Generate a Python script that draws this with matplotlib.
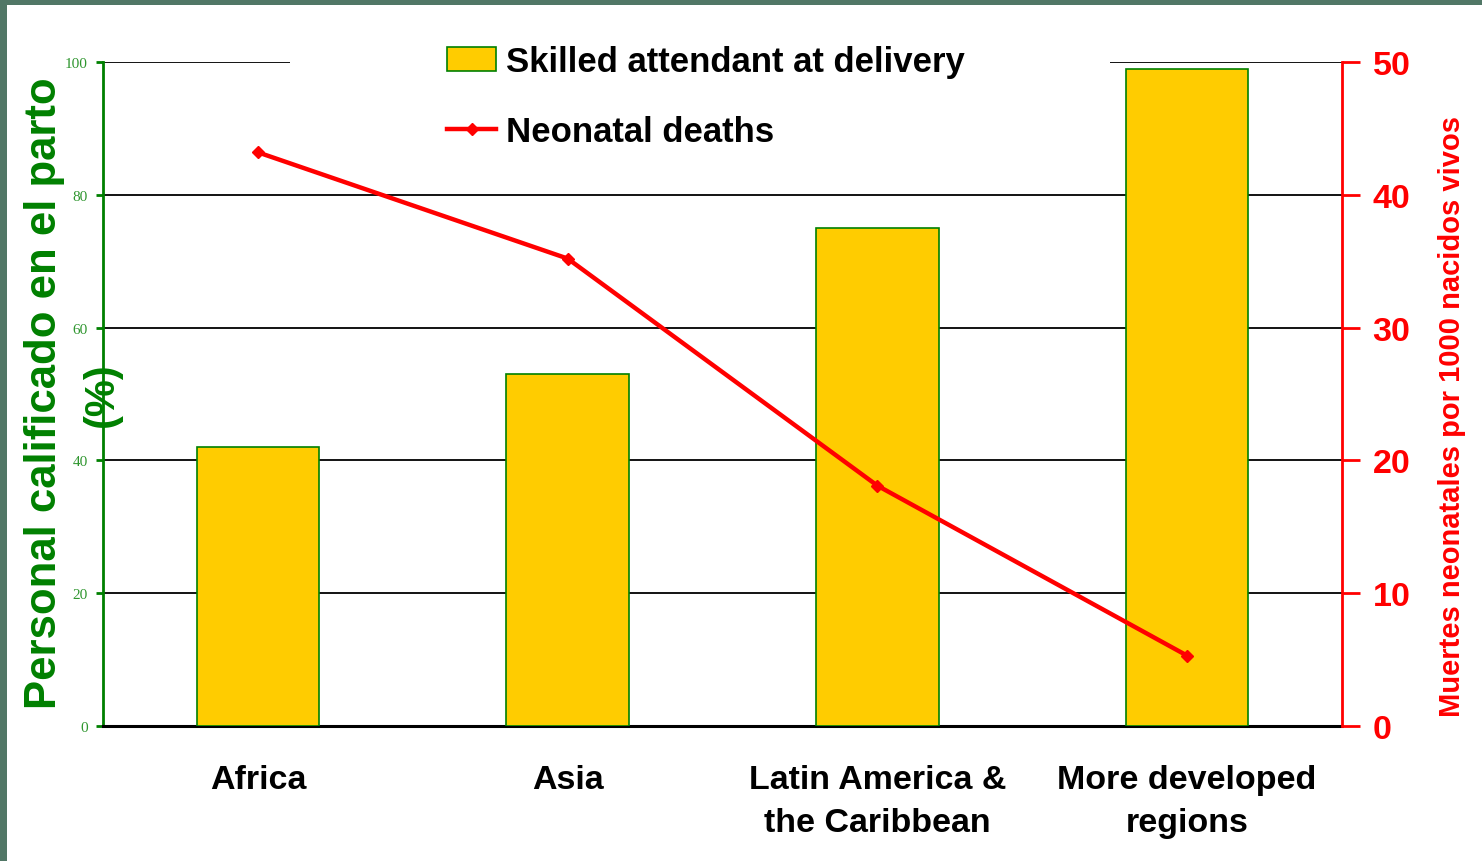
import matplotlib
matplotlib.use("Agg")
import matplotlib.pyplot as plt
from matplotlib.patches import Rectangle

regions = ["Africa", "Asia", "Latin America &\nthe Caribbean", "More developed\nregions"]
skilled_attendant = [42, 53, 75, 99]
neonatal_deaths = [43.2, 35.2, 18.1, 5.3]
left_ticks = [0, 20, 40, 60, 80, 100]
right_ticks = [0, 10, 20, 30, 40, 50]

plt.rcParams["font.family"] = ["Liberation Sans", "DejaVu Sans"]

GREEN = "#008000"
RED = "#ff0000"
GOLD = "#ffcc00"


def main() -> None:
    fig = plt.figure(figsize=(14.82, 8.62), dpi=100)
    ax = fig.add_axes([0.0695, 0.1566, 0.836, 0.7703])
    ax2 = ax.twinx()

    x = list(range(len(regions)))
    bars = ax.bar(x, skilled_attendant, width=0.395, color=GOLD, edgecolor=GREEN,
                  linewidth=1.2, zorder=3, label="Skilled attendant at delivery")
    line, = ax2.plot(x, neonatal_deaths, color=RED, linewidth=3.2, marker="D",
                     markersize=6, zorder=4, label="Neonatal deaths")

    ax.set_xlim(-0.5, len(regions) - 0.5)
    ax.set_ylim(0, 100)
    ax2.set_ylim(0, 50)
    ax.set_yticks(left_ticks)
    ax2.set_yticks(right_ticks)
    ax.set_xticks(x)
    ax.set_xticklabels(regions, fontsize=24.5, fontweight="bold", linespacing=1.5)
    ax.tick_params(axis="x", length=0, pad=27)

    ax.grid(axis="y", color="black", linewidth=1.3, zorder=0)
    ax.set_axisbelow(True)

    for t in ax.get_yticklabels():
        t.set_family(["Liberation Serif"])
        t.set_fontsize(11)
        t.set_color("#2f962f")
    ax.tick_params(axis="y", length=5, width=2, color=GREEN, pad=6)
    ax2.tick_params(axis="y", length=13, width=2, color=RED, labelcolor=RED,
                    labelsize=24.5, pad=9)
    for t in ax2.get_yticklabels():
        t.set_fontweight("bold")

    for a in (ax, ax2):
        a.spines["top"].set_visible(False)
    ax.spines["left"].set_color(GREEN)
    ax.spines["left"].set_linewidth(2)
    ax.spines["right"].set_visible(False)
    ax2.spines["left"].set_visible(False)
    ax2.spines["right"].set_color(RED)
    ax2.spines["right"].set_linewidth(2)
    ax.spines["bottom"].set_linewidth(2.2)
    ax2.spines["bottom"].set_visible(False)

    # left axis title, two lines as in the original
    ax.text(-0.0476, 0.502, "Personal calificado en el parto", transform=ax.transAxes,
            fontsize=31.5, fontweight="bold", color=GREEN, rotation=90,
            ha="center", va="center")
    ax.text(-0.0008, 0.5, "(%)", transform=ax.transAxes, fontsize=30,
            fontweight="bold", color=GREEN, rotation=90, ha="center", va="center",
            zorder=5)
    ax2.set_ylabel("Muertes neonatales por 1000 nacidos vivos", fontsize=21,
                   fontweight="bold", color=RED, rotation=90)
    ax2.yaxis.set_label_coords(1.0775, 0.467)

    # white strip behind the legend, interrupting the top grid line
    ax.add_patch(Rectangle((0.151, 0.985), 0.662, 0.03, transform=ax.transAxes,
                           facecolor="white", edgecolor="none", zorder=2, clip_on=False))

    ax2.legend([bars, line], [bars.get_label(), line.get_label()],
               loc="upper left", bbox_to_anchor=(0.2526, 1.072), frameon=False,
               prop={"weight": "bold", "size": 25}, labelspacing=1.05,
               handlelength=1.4, handletextpad=0.3)

    border = "#517766"
    fig.add_artist(Rectangle((0, 1 - 6 / 862), 1, 6 / 862, transform=fig.transFigure,
                             facecolor=border, edgecolor="none"))
    fig.add_artist(Rectangle((0, 0), 7 / 1482, 1, transform=fig.transFigure,
                             facecolor=border, edgecolor="none"))

    fig.savefig("out.png", dpi=100)


if __name__ == "__main__":
    main()
